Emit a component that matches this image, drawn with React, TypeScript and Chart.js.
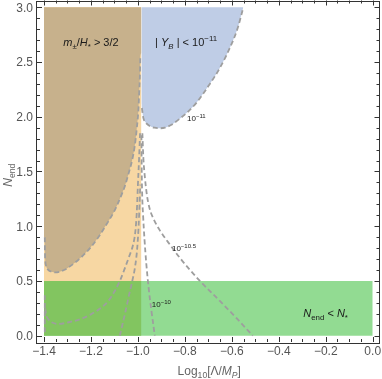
import React, { useEffect, useRef } from 'react';
import { Chart, registerables } from 'chart.js';

Chart.register(...registerables);

type Pt = [number, number];

// ---- axis ticks ----
const lambdaTicks = [-1.4, -1.2, -1.0, -0.8, -0.6, -0.4, -0.2, 0.0];
const lambdaTickLabels = ['\u22121.4', '\u22121.2', '\u22121.0', '\u22120.8', '\u22120.6', '\u22120.4', '\u22120.2', '0.0'];
const lambdaMinorStep = 0.05;
const nTicks = [0, 0.5, 1.0, 1.5, 2.0, 2.5, 3.0];
const nTickLabels = ['0.0', '0.5', '1.0', '1.5', '2.0', '2.5', '3.0'];
const nMinorStep = 0.1;

// ---- regions ----
const lambdaRange: Pt = [-1.4, 0.0];
const nTop = 3.0;
const nEndBound = 0.5; // N_end < N_*
const massLambdaMax = -0.985; // m±/H* > 3/2

// ---- |Y_B| contours ----
const yb11Left: Pt[] = [
  [-1.3965, 0.9], [-1.396, 0.78], [-1.395, 0.7], [-1.392, 0.645], [-1.385, 0.61], [-1.372, 0.588],
  [-1.355, 0.578], [-1.335, 0.583], [-1.31, 0.605], [-1.285, 0.64], [-1.25, 0.7], [-1.204, 0.8],
  [-1.165, 0.91], [-1.133, 1.02], [-1.1, 1.14], [-1.075, 1.26], [-1.055, 1.37], [-1.04, 1.48],
  [-1.025, 1.6], [-1.013, 1.74], [-1.005, 1.89], [-0.998, 2.06], [-0.994, 2.25], [-0.991, 2.42], [-0.99, 2.55],
];
const yb11Right: Pt[] = [
  [-0.983, 2.08], [-0.977, 1.99], [-0.966, 1.945], [-0.95, 1.915], [-0.93, 1.9], [-0.91, 1.895],
  [-0.885, 1.9], [-0.855, 1.93], [-0.82, 1.985], [-0.785, 2.05], [-0.75, 2.13], [-0.7, 2.28],
  [-0.65, 2.45], [-0.6, 2.67], [-0.575, 2.81], [-0.551, 3.0],
];
const yb105Left: Pt[] = [
  [-1.395, 0.25], [-1.39, 0.185], [-1.38, 0.145], [-1.365, 0.12], [-1.34, 0.108], [-1.31, 0.115],
  [-1.28, 0.13], [-1.247, 0.15], [-1.2, 0.195], [-1.16, 0.25], [-1.125, 0.32], [-1.098, 0.41],
  [-1.075, 0.51], [-1.055, 0.62], [-1.038, 0.72], [-1.022, 0.82], [-1.011, 0.95], [-1.005, 1.12],
  [-1.0, 1.38], [-0.995, 1.62], [-0.991, 1.85],
];
const yb105Spike: Pt[] = [[-1.3965, 0.37], [-1.3965, 0.03]];
const yb105Right: Pt[] = [
  [-0.981, 1.85], [-0.977, 1.63], [-0.97, 1.44], [-0.962, 1.29], [-0.95, 1.16], [-0.932, 1.06],
  [-0.906, 0.96], [-0.87, 0.85], [-0.821, 0.71], [-0.78, 0.605], [-0.736, 0.5], [-0.65, 0.315],
  [-0.58, 0.16], [-0.511, 0.0],
];
const yb10Left: Pt[] = [
  [-1.077, 0.0], [-1.066, 0.1], [-1.052, 0.23], [-1.038, 0.37], [-1.024, 0.5], [-1.012, 0.63],
  [-1.003, 0.8], [-0.997, 1.0], [-0.993, 1.2], [-0.99, 1.38],
];
const yb10Right: Pt[] = [
  [-0.985, 1.83], [-0.984, 1.55], [-0.982, 1.3], [-0.978, 1.1], [-0.972, 0.88], [-0.964, 0.65],
  [-0.954, 0.43], [-0.942, 0.22], [-0.928, 0.0],
];

// label anchors (data coords)
const massLabelAt: Pt = [-1.2, 2.646];
const ybLabelAt: Pt = [-0.927, 2.646];
const c11LabelAt: Pt = [-0.791, 1.961];
const c105LabelAt: Pt = [-0.855, 0.774];
const c10LabelAt: Pt = [-0.941, 0.262];
const nEndLabelAt: Pt = [-0.296, 0.171];

const FONT = '"Liberation Sans", Arial, Helvetica, sans-serif';
type Seg = { t: string; i?: boolean; sub?: boolean; sup?: boolean };

function drawRich(ctx: CanvasRenderingContext2D, segs: Seg[], x: number, y: number, size: number,
  align: 'left' | 'center', color: string, small = 0.72) {
  const parts = segs.map((s) => {
    const sz = s.sub || s.sup ? size * small : size;
    const font = `${s.i ? 'italic ' : ''}${sz}px ${FONT}`;
    ctx.font = font;
    return { ...s, font, w: ctx.measureText(s.t).width, dy: s.sub ? size * 0.25 : s.sup ? -size * 0.42 : 0 };
  });
  const total = parts.reduce((a, p) => a + p.w, 0);
  let cx = align === 'center' ? x - total / 2 : x;
  ctx.fillStyle = color;
  ctx.textBaseline = 'alphabetic';
  ctx.textAlign = 'left';
  for (const p of parts) {
    ctx.font = p.font;
    ctx.fillText(p.t, cx, y + p.dy);
    cx += p.w;
  }
}

const toXY = (a: Pt[]) => a.map(([x, y]) => ({ x, y }));

const DASH_COLOR = 'rgb(158,158,158)';
const lineDs = (data: Pt[]) => ({
  data: toXY(data), borderColor: DASH_COLOR, borderWidth: 1.8, borderDash: [5, 3],
  pointRadius: 0, fill: false, cubicInterpolationMode: 'monotone' as const,
});
const fillDs = (data: Pt[], color: string, to: number) => ({
  data: toXY(data), borderWidth: 0, borderColor: 'rgba(0,0,0,0)', backgroundColor: color,
  pointRadius: 0, fill: { value: to }, cubicInterpolationMode: 'monotone' as const,
});

const decorPlugin = {
  id: 'decor',
  afterDraw(chart: any) {
    const ctx: CanvasRenderingContext2D = chart.ctx;
    const xs = chart.scales.x, ys = chart.scales.y;
    const { left, right, top, bottom } = chart.chartArea;
    const px = (v: number) => xs.getPixelForValue(v);
    const py = (v: number) => ys.getPixelForValue(v);
    ctx.save();
    // in-plot labels
    drawRich(ctx, [{ t: 'm', i: true }, { t: '\u00b1', sub: true }, { t: '/' }, { t: 'H', i: true }, { t: '*', sub: true }, { t: ' > 3/2' }],
      px(massLabelAt[0]), py(massLabelAt[1]), 11, 'center', '#1a1a1a');
    drawRich(ctx, [{ t: '| ' }, { t: 'Y', i: true }, { t: 'B', i: true, sub: true }, { t: ' | < 10' }, { t: '\u221211', sup: true }],
      px(ybLabelAt[0]), py(ybLabelAt[1]), 11, 'left', '#1a1a1a');
    drawRich(ctx, [{ t: '10' }, { t: '\u221211', sup: true }], px(c11LabelAt[0]), py(c11LabelAt[1]), 8, 'left', '#1a1a1a', 0.75);
    drawRich(ctx, [{ t: '10' }, { t: '\u221210.5', sup: true }], px(c105LabelAt[0]), py(c105LabelAt[1]), 8, 'left', '#1a1a1a', 0.75);
    drawRich(ctx, [{ t: '10' }, { t: '\u221210', sup: true }], px(c10LabelAt[0]), py(c10LabelAt[1]), 8, 'left', '#1a1a1a', 0.75);
    drawRich(ctx, [{ t: 'N', i: true }, { t: 'end', sub: true }, { t: ' < ' }, { t: 'N', i: true }, { t: '*', sub: true }],
      px(nEndLabelAt[0]), py(nEndLabelAt[1]), 11, 'left', '#1a1a1a');

    // frame
    ctx.strokeStyle = '#333';
    ctx.lineWidth = 1;
    ctx.strokeRect(Math.round(left) - 0.5, Math.round(top) + 0.5, Math.round(right - left), Math.round(bottom - top));
    // ticks
    ctx.beginPath();
    const xMin = xs.min, xMax = xs.max, yMin = ys.min, yMax = ys.max;
    for (let k = -40; k <= 40; k++) {
      const v = +(k * lambdaMinorStep).toFixed(4);
      if (v < xMin || v > xMax) continue;
      const major = lambdaTicks.some((t) => Math.abs(t - v) < 1e-6);
      const len = major ? 5 : 3;
      const X = Math.round(px(v)) + 0.5;
      ctx.moveTo(X, bottom); ctx.lineTo(X, bottom - len);
      ctx.moveTo(X, top); ctx.lineTo(X, top + len);
    }
    for (let k = -5; k <= 40; k++) {
      const v = +(k * nMinorStep).toFixed(4);
      if (v < yMin || v > yMax) continue;
      const major = nTicks.some((t) => Math.abs(t - v) < 1e-6);
      const len = major ? 5 : 3;
      const Y = Math.round(py(v)) + 0.5;
      ctx.moveTo(left, Y); ctx.lineTo(left + len, Y);
      ctx.moveTo(right, Y); ctx.lineTo(right - len, Y);
    }
    ctx.stroke();
    // tick labels
    ctx.fillStyle = '#555';
    ctx.font = `12px ${FONT}`;
    ctx.textAlign = 'center';
    ctx.textBaseline = 'middle';
    lambdaTicks.forEach((v, i) => ctx.fillText(lambdaTickLabels[i], px(v), bottom + 10));
    ctx.textAlign = 'right';
    nTicks.forEach((v, i) => ctx.fillText(nTickLabels[i], left - 4, py(v) + 1));
    // axis titles
    drawRich(ctx, [{ t: 'Log' }, { t: '10', sub: true }, { t: '[\u039b/' }, { t: 'M', i: true }, { t: 'P', i: true, sub: true }, { t: ']' }],
      (left + right) / 2 + 1, bottom + 33, 12, 'center', '#666');
    ctx.translate(12, (top + bottom) / 2 + 4);
    ctx.rotate(-Math.PI / 2);
    drawRich(ctx, [{ t: 'N', i: true }, { t: 'end', sub: true }], 0, 0, 12, 'center', '#666');
    ctx.restore();
  },
};

export default function App() {
  const ref = useRef<HTMLCanvasElement>(null);
  useEffect(() => {
    if (!ref.current) return;
    const brownData: Pt[] = [[lambdaRange[0], yb11Left[0][1]], ...yb11Left, [massLambdaMax, 2.58]];
    const blueData: Pt[] = [[massLambdaMax, nTop], [massLambdaMax, 2.12], ...yb11Right];
    const chart = new Chart(ref.current, {
      type: 'line',
      data: {
        datasets: [
          lineDs(yb11Left) as any,
          lineDs(yb11Right),
          lineDs(yb105Left),
          lineDs(yb105Spike),
          lineDs(yb105Right),
          lineDs(yb10Left),
          lineDs(yb10Right),
          fillDs(blueData, 'rgb(191,205,230)', nTop),
          fillDs(brownData, 'rgb(199,177,140)', nTop),
          fillDs([[lambdaRange[0], nEndBound], [massLambdaMax, nEndBound]], 'rgb(130,197,96)', 0),
          fillDs([[lambdaRange[0], nEndBound], [lambdaRange[1], nEndBound]], 'rgb(146,219,146)', 0),
          fillDs([[lambdaRange[0], nTop], [massLambdaMax, nTop]], 'rgb(247,215,163)', nEndBound),
        ],
      },
      options: {
        animation: false,
        responsive: false,
        devicePixelRatio: 1,
        layout: { padding: { left: 37, right: 2.5, top: 0.5, bottom: 37 } },
        scales: {
          x: { type: 'linear', min: -1.4298, max: 0.0289, display: false },
          y: { type: 'linear', min: -0.0576, max: 3.062, display: false },
        },
        plugins: { legend: { display: false }, tooltip: { enabled: false } },
        elements: { point: { radius: 0 } },
      },
      plugins: [decorPlugin],
    });
    return () => chart.destroy();
  }, []);
  return (
    <div style={{ position: 'fixed', left: 0, top: 0, width: 382, height: 379, background: '#fff' }}>
      <canvas ref={ref} width={382} height={379} style={{ display: 'block' }} />
    </div>
  );
}
